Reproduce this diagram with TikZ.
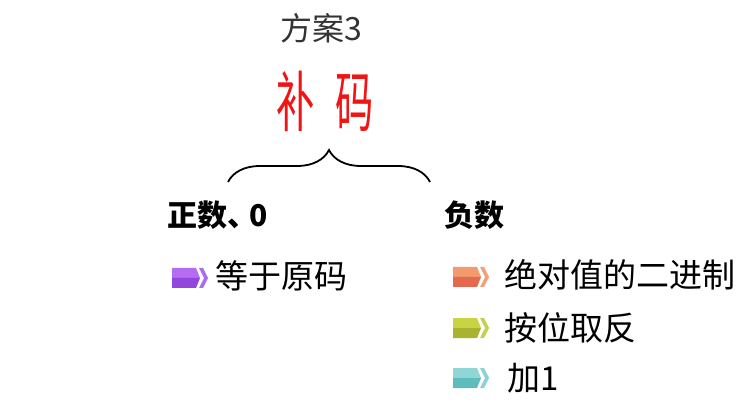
\documentclass[tikz,border=0pt]{standalone}
\usepackage{fontspec}
\newfontfamily\cjk{Noto Sans CJK SC}
\usetikzlibrary{positioning}
\usetikzlibrary{decorations.pathreplacing}

\definecolor{mred}{RGB}{240,20,20}
\definecolor{puA}{RGB}{180,108,240}
\definecolor{puB}{RGB}{147,70,220}
\definecolor{puC}{RGB}{170,110,235}
\definecolor{orA}{RGB}{243,154,110}
\definecolor{orB}{RGB}{229,105,78}
\definecolor{orC}{RGB}{245,160,125}
\definecolor{olA}{RGB}{200,212,68}
\definecolor{olB}{RGB}{169,179,47}
\definecolor{olC}{RGB}{195,208,80}
\definecolor{tlA}{RGB}{143,214,214}
\definecolor{tlB}{RGB}{94,188,188}
\definecolor{tlC}{RGB}{140,210,210}

% coloured arrow tag in front of each item
\newcommand{\chev}[4]{
\fill[#2] (#1) ++(0,0) -- ++(24,0) -- ++(4,10) -- ++(-28,0) -- cycle;
\fill[#3] (#1) ++(0,10) -- ++(28,0) -- ++(-4,10) -- ++(-24,0) -- cycle;
\fill[#4] (#1) ++(27,0) -- ++(4,0) -- ++(5,10) -- ++(-5,10) -- ++(-4,0) -- ++(5,-10) -- cycle;
}

\begin{document}
\begin{tikzpicture}[x=1pt, y=-1pt, font=\cjk,
  head/.style={font=\cjk\bfseries\fontsize{30}{30}\selectfont, anchor=west},
  item/.style={font=\cjk\fontsize{33}{33}\selectfont, anchor=west}]

\useasboundingbox (0,0) rectangle (740,409);

\node[text=black!80, font=\cjk\fontsize{32}{32}\selectfont] (fa) at (321,28) {方案3};
\node[text=mred, font=\cjk\fontsize{66}{66}\selectfont, xscale=0.58] (bm) at (325,101) {补\hspace{36pt}码};

\coordinate (bl) at (228,182);
\coordinate (br) at (430,182);
\draw[line width=1.8pt, decorate, decoration={brace, amplitude=32pt}] (bl) -- (br);

\node[head] (zs) at (164,215) {正数、\kern-8pt 0};
\node[head] (fs) at (441,215) {负数};

\chev{172,268}{puA}{puB}{puC}
\node[item] (a1) at (212,276) {等于原码};

\chev{453,267}{orA}{orB}{orC}
\node[item] (b1) at (501,275) {绝对值的二进制};

\chev{453,318}{olA}{olB}{olC}
\node[item] (b2) at (501,328) {按位取反};

\chev{453,368}{tlA}{tlB}{tlC}
\node[item] (b3) at (504,378) {加1};

\end{tikzpicture}
\end{document}
